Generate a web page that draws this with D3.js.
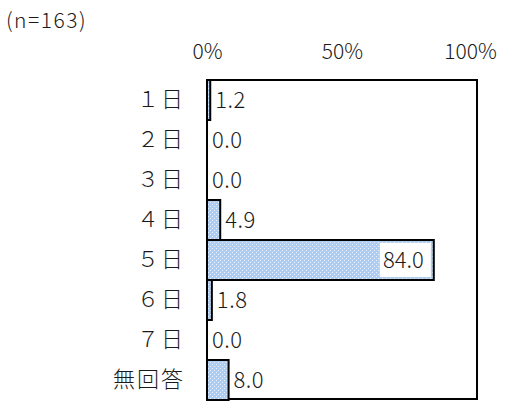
<!DOCTYPE html>
<html><head><meta charset="utf-8">
<script src="https://cdn.jsdelivr.net/npm/d3@7"></script>
<style>body{margin:0;background:#fff}</style>
</head><body>
<script>
const categories = ["１日","２日","３日","４日","５日","６日","７日","無回答"];
const values = [1.2, 0.0, 0.0, 4.9, 84.0, 1.8, 0.0, 8.0];
const tickValues = [0, 50, 100];
const sampleNote = "(n=163)";

const W = 505, H = 401;
const m = {left: 207, right: 28, top: 80, bottom: 1};
const font = "'Noto Sans CJK JP', 'Noto Sans', sans-serif";
const ink = "#1a1a1a";

const svg = d3.select("body").append("svg").attr("width", W).attr("height", H);
const defs = svg.append("defs");
const pat = defs.append("pattern").attr("id","hatch").attr("patternUnits","userSpaceOnUse")
  .attr("width",4).attr("height",4);
pat.append("rect").attr("width",4).attr("height",4).attr("fill","#aecdf0");
pat.append("rect").attr("x",0).attr("y",0).attr("width",1).attr("height",1).attr("fill","#e8f0fb");
pat.append("rect").attr("x",2).attr("y",2).attr("width",1).attr("height",1).attr("fill","#e8f0fb");

const x = d3.scaleLinear().domain([0,100]).range([m.left, W - m.right]);
const y = d3.scaleBand().domain(categories).range([m.top, H - m.bottom]).padding(0);

// frame
svg.append("rect").attr("x", x(0)).attr("y", y.range()[0])
  .attr("width", x(100)-x(0)).attr("height", y.range()[1]-y.range()[0] - 1)
  .attr("fill","none").attr("stroke","#000").attr("stroke-width",2);

// bars
svg.selectAll(".bar").data(categories).join("rect")
  .attr("x", x(0)).attr("y", d => y(d))
  .attr("width", (d,i) => x(values[i]) - x(0))
  .attr("height", y.bandwidth())
  .attr("fill","url(#hatch)").attr("stroke","#000").attr("stroke-width",2);

// axis tick labels (top)
const ax = d3.axisTop(x).tickValues(tickValues).tickFormat(d => d + "%").tickSize(0).tickPadding(0);
const axg = svg.append("g").attr("transform", `translate(0,${m.top-21})`).call(ax);
axg.select(".domain").remove();
axg.selectAll("text").attr("font-family", font).attr("font-size", 21).attr("fill",ink).attr("font-weight",300);
axg.selectAll(".tick:last-of-type text").attr("text-anchor","middle").attr("dx", -7);

// category labels
const yax = d3.axisLeft(y).tickSize(0).tickPadding(22);
const yg = svg.append("g").attr("transform", `translate(${m.left},0)`).call(yax);
yg.select(".domain").remove();
yg.selectAll("text").attr("font-family", font).attr("font-size", 22).attr("fill",ink)
  .attr("font-weight",300).attr("letter-spacing", 2);

// value labels
const lab = svg.selectAll(".val").data(categories).join("g");
lab.each(function(d,i){
  const g = d3.select(this);
  const v = values[i];
  const cy = y(d) + y.bandwidth()/2;
  const txt = v.toFixed(1);
  if (v > 50) {
    g.append("rect").attr("x", x(v) - 54).attr("y", y(d) + 3).attr("width", 51).attr("height", y.bandwidth() - 6).attr("fill","#fff");
    g.append("text").attr("x", x(v) - 10).attr("y", cy).attr("dy","0.36em").attr("text-anchor","end")
      .attr("font-family", font).attr("font-size", 22).attr("font-weight",300).attr("fill",ink).text(txt);
  } else {
    g.append("text").attr("x", x(v) + 5).attr("y", cy).attr("dy","0.36em")
      .attr("font-family", font).attr("font-size", 22).attr("font-weight",300).attr("fill",ink)
      .attr("letter-spacing", 0.5).text(txt);
  }
});

svg.append("text").attr("x", 6).attr("y", 28).attr("font-family", font).attr("font-size", 21)
  .attr("font-weight",300).attr("fill",ink).attr("letter-spacing", 1.5).text(sampleNote);
</script>
</body></html>
